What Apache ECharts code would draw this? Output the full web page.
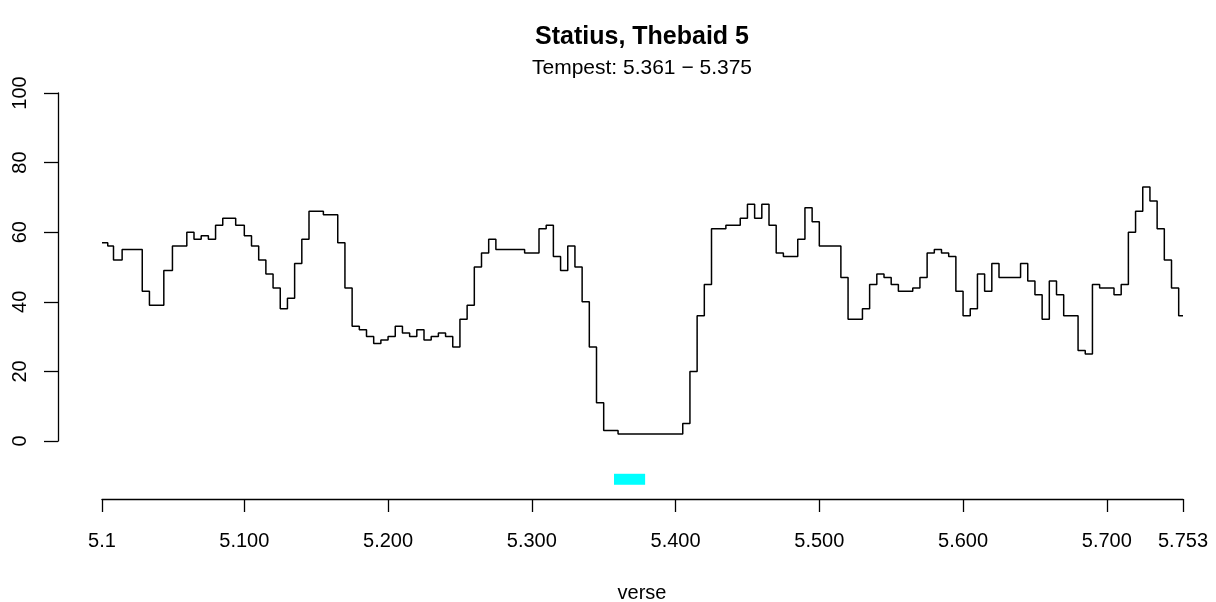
<!DOCTYPE html>
<html>
<head>
<meta charset="utf-8">
<script src="https://cdn.jsdelivr.net/npm/echarts@6/dist/echarts.min.js"></script>
<style>
html,body{margin:0;padding:0;background:#fff;}
#chart{width:1216px;height:602px;}
</style>
</head>
<body>
<div id="chart"></div>
<script>
// Verse number (within book 5) at which each value starts
var verses = [1,5,9,15,29,34,44,50,60,65,70,75,80,85,94,100,105,110,115,120,125,130,
  135,140,145,155,165,170,175,180,185,190,195,200,205,210,215,220,225,230,235,240,245,
  250,255,260,265,270,275,295,305,310,315,320,325,330,335,340,345,350,360,405,410,415,
  420,425,435,445,450,455,460,465,470,475,485,490,495,500,515,520,530,535,540,545,550,
  555,565,570,575,580,585,590,595,600,605,610,615,620,625,640,645,650,655,660,665,670,
  680,685,690,695,705,710,715,720,725,730,735,740,745,750,753];
var values = [57,56,52,55,43,39,49,56,60,58,59,58,62,64,62,59,56,52,48,44,38,41,
  51,58,66,65,57,44,33,32,30,28,29,30,33,31,30,32,29,30,31,30,27,
  35,39,50,54,58,55,54,61,62,53,49,56,50,40,27,11,3,2,5,20,36,
  45,61,62,64,68,64,68,62,54,53,58,67,63,56,47,35,38,45,48,47,45,
  43,44,47,54,55,54,53,43,36,38,48,43,51,47,51,46,42,35,46,42,36,
  26,25,45,44,42,45,60,66,73,69,61,52,44,36,36];
var tempest = [361, 375];
var tempestLevel = -11;
var xTicks = [1,100,200,300,400,500,600,700,753];
var xTickLabels = ['5.1','5.100','5.200','5.300','5.400','5.500','5.600','5.700','5.753'];
var yTicks = [0,20,40,60,80,100];
var titleText = 'Statius, Thebaid 5';
var subtitleText = 'Tempest: 5.361 \u2212 5.375';
var xName = 'verse';

var FONT = '"Liberation Sans", Arial, Helvetica, sans-serif';
var lineData = verses.map(function(v,i){return [v, values[i]];});
var tempestData = tempest.map(function(v){return [v, tempestLevel];});

var chart = echarts.init(document.getElementById('chart'), null, {renderer:'canvas'});
chart.setOption({
  animation:false,
  backgroundColor:'#fff',
  title:[
    {text:titleText, left:642, top:25, padding:0, textAlign:'center',
     textStyle:{fontFamily:FONT, fontSize:25, fontWeight:'bold', color:'#000'}},
    {text:subtitleText, left:642, top:58, padding:0, textAlign:'center',
     textStyle:{fontFamily:FONT, fontSize:21, fontWeight:'normal', color:'#000'}},
    {text:xName, left:642, top:583, padding:0, textAlign:'center',
     textStyle:{fontFamily:FONT, fontSize:20, fontWeight:'normal', color:'#000'}}
  ],
  grid:{left:102, top:93, width:1081, height:348, containLabel:false},
  xAxis:{
    type:'value', min:1, max:753, offset:58,
    axisLine:{show:true, onZero:false, lineStyle:{color:'#000', width:1.3}},
    axisTick:{show:true, customValues:xTicks, length:13, lineStyle:{color:'#000', width:1.3}},
    axisLabel:{show:true, customValues:xTicks, margin:32, color:'#000',
      fontFamily:FONT, fontSize:20,
      formatter:function(v){var i=xTicks.indexOf(v); return i>=0?xTickLabels[i]:'';}},
    splitLine:{show:false}
  },
  yAxis:{
    type:'value', min:0, max:100, interval:20, offset:44,
    axisLine:{show:true, onZero:false, lineStyle:{color:'#000', width:1.3}},
    axisTick:{show:true, length:14, lineStyle:{color:'#000', width:1.3}},
    axisLabel:{show:true, rotate:90, margin:28, color:'#000',
      fontFamily:FONT, fontSize:20, align:'center', verticalAlign:'bottom'},
    splitLine:{show:false}
  },
  series:[
    {type:'line', data:lineData, step:'end', symbol:'none', silent:true,
     lineStyle:{color:'#000', width:1.5}},
    {type:'line', data:tempestData, symbol:'none', silent:true, clip:false,
     lineStyle:{color:'#00FFFF', width:11, cap:'square'}}
  ]
});
</script>
</body>
</html>
